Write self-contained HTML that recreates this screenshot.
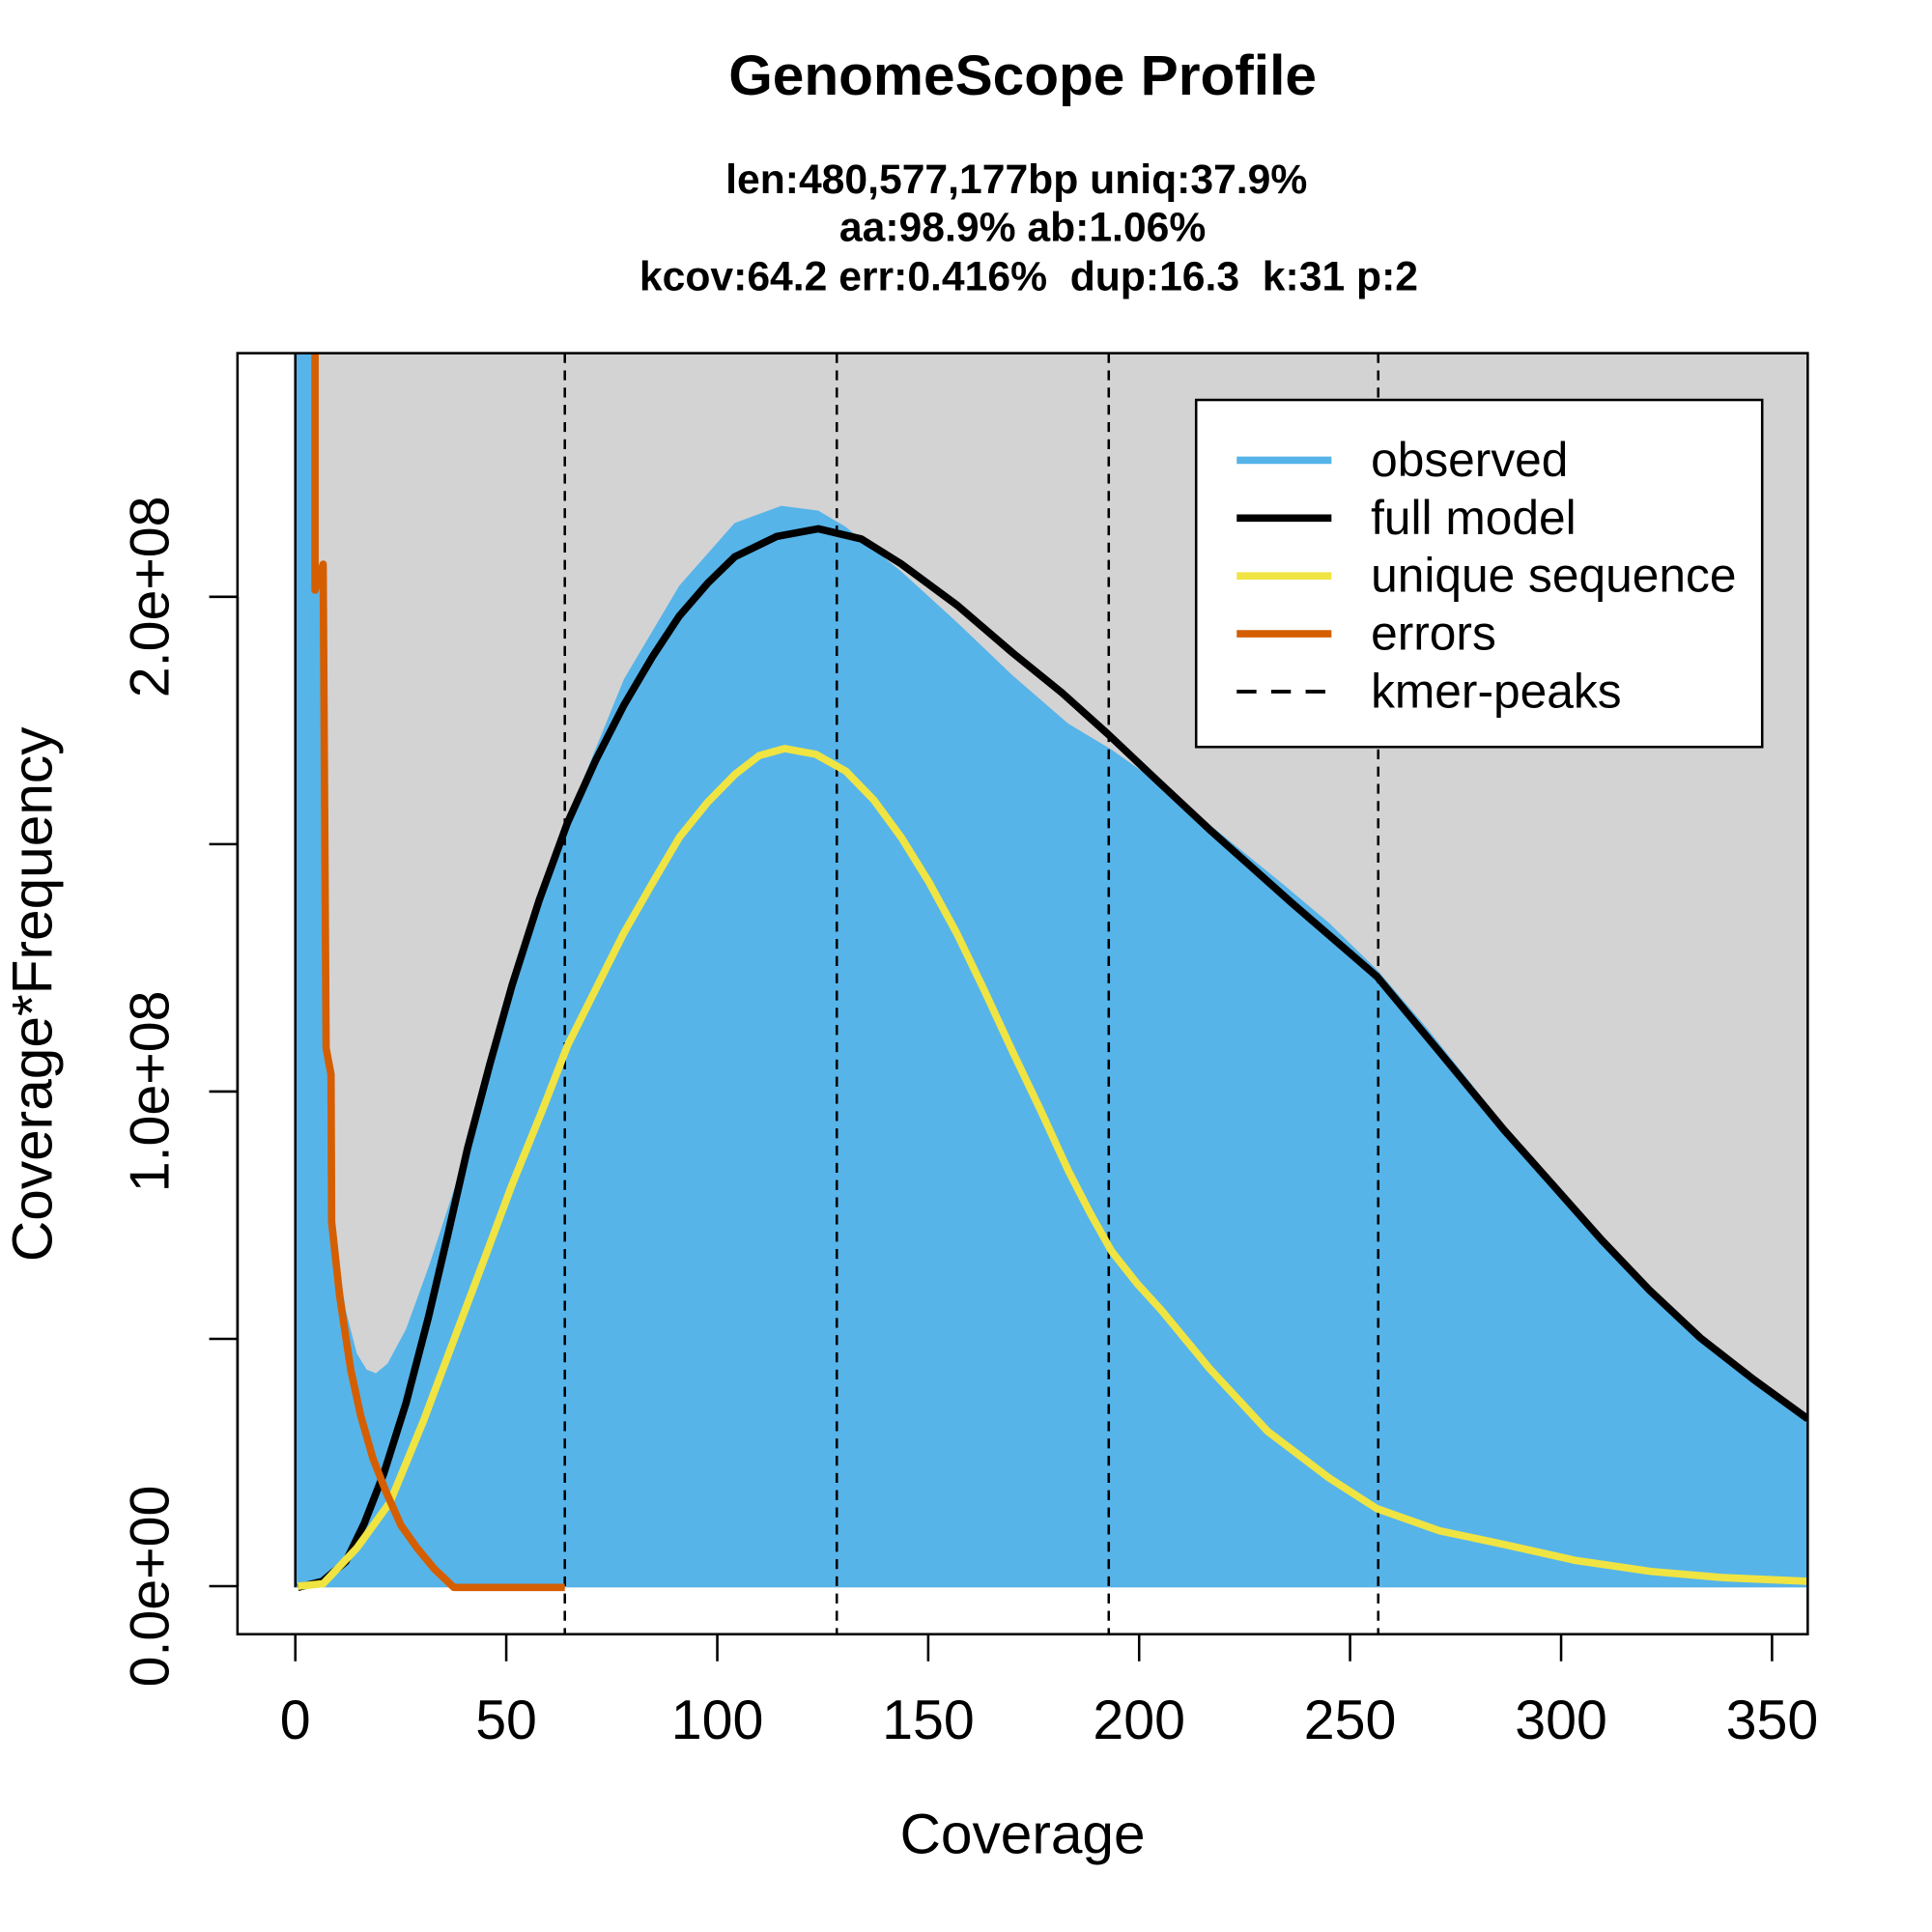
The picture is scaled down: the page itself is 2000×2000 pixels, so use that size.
<!DOCTYPE html>
<html><head><style>html,body{margin:0;padding:0;background:#fff}svg{display:block}</style></head>
<body>
<svg width="2000" height="2000" viewBox="0 0 1570 1570" xmlns="http://www.w3.org/2000/svg" font-family="Liberation Sans, Arial, sans-serif">
<defs><clipPath id="c"><rect x="193" y="287" width="1276" height="1041"/></clipPath></defs>
<rect x="240" y="287" width="1229" height="1003" fill="#d3d3d3"/>
<g clip-path="url(#c)">
<path d="M240,1290 L240,280 L256,280 L258,479 L263,470 L265,852 L269,900 L272,990 L276,1030 L281,1065 L290,1100 L298,1113 L305.5,1116 L315,1108 L330,1080 L348.5,1029 L380,933 L416,801 L461,665 L507,552 L552,476 L597,425 L635,411 L665,415 L687,428 L732,464 L778,506 L823,549 L868,588 L903,609 L944,638 L982.8,670 L1042,718 L1080,750 L1119,788 L1160,836 L1222,914 L1301.6,1007.7 L1381.5,1087 L1467,1152 L1469,1153 L1469,1290 Z" fill="#56b4e9"/>
<line x1="240" y1="287" x2="240" y2="1290" stroke="#000" stroke-width="2"/>
<g stroke="#000" stroke-width="2" stroke-dasharray="8,6">
<line x1="459" y1="287" x2="459" y2="1328"/><line x1="680" y1="287" x2="680" y2="1328"/><line x1="901" y1="287" x2="901" y2="1328"/><line x1="1120" y1="287" x2="1120" y2="1328"/>
</g>
<path d="M242,1290 L262,1285 L281,1269 L296,1238 L312,1197 L330,1140 L348,1071 L364,1003 L380,933 L398,865 L416,801 L438,732 L461,669 L484,618 L507,573 L530,534 L552,500.6 L575,474 L597,452.5 L631,436 L665,429.7 L700,438 L732,458 L778,492 L823,530.6 L863,563 L900.5,596.7 L940,634 L982.8,674 L1050,734 L1119,793.6 L1170,855 L1222,918 L1262,963 L1301.6,1007.7 L1340,1048 L1381.5,1087 L1425,1121 L1469,1153" fill="none" stroke="#000" stroke-width="6" stroke-linejoin="round"/>
<path d="M242,1289 L262.6,1287 L290,1258 L316.8,1221 L344,1155 L371,1083 L394,1022 L416,963 L440,904 L461.5,849 L485,802 L506.6,758.8 L530,718 L552,680.5 L575,652 L597,629.5 L617,614 L637.5,608.3 L663,613 L687.4,626.7 L710,650 L732.4,680.5 L755,717 L777.7,758.8 L800,805 L823,854.8 L846,903 L868,951 L886,986 L903.4,1017 L924,1043 L944,1065 L982.8,1112 L1030,1163 L1080,1201 L1119,1226 L1170,1244 L1222,1255 L1280,1268 L1341.6,1277 L1400,1282 L1469,1285" fill="none" stroke="#f0e442" stroke-width="6" stroke-linejoin="round"/>
<path d="M256,280 L256,479.6 L262.6,458.5 L265,851.7 L269,873 L269.5,993 L276,1053 L285,1113 L293,1150 L303,1185 L314,1213 L325.8,1239.5 L339,1258 L353,1275 L368.8,1290 L459,1290" fill="none" stroke="#d55e00" stroke-width="6" stroke-linejoin="round"/>
</g>
<rect x="193" y="287" width="1276" height="1041" fill="none" stroke="#000" stroke-width="2"/>
<g stroke="#000" stroke-width="2">
<line x1="240" y1="1328" x2="1440" y2="1328"/>
<line x1="240" y1="1328" x2="240" y2="1350"/><line x1="411.4" y1="1328" x2="411.4" y2="1350"/><line x1="582.9" y1="1328" x2="582.9" y2="1350"/><line x1="754.3" y1="1328" x2="754.3" y2="1350"/><line x1="925.7" y1="1328" x2="925.7" y2="1350"/><line x1="1097.1" y1="1328" x2="1097.1" y2="1350"/><line x1="1268.6" y1="1328" x2="1268.6" y2="1350"/><line x1="1440" y1="1328" x2="1440" y2="1350"/>
<line x1="193" y1="485" x2="193" y2="1289"/>
<line x1="193" y1="1289" x2="170" y2="1289"/><line x1="193" y1="1088" x2="170" y2="1088"/><line x1="193" y1="887" x2="170" y2="887"/><line x1="193" y1="686" x2="170" y2="686"/><line x1="193" y1="485" x2="170" y2="485"/>
</g>
<g font-size="45" text-anchor="middle" fill="#000">
<text x="240" y="1413">0</text><text x="411.4" y="1413">50</text><text x="582.9" y="1413">100</text><text x="754.3" y="1413">150</text><text x="925.7" y="1413">200</text><text x="1097.1" y="1413">250</text><text x="1268.6" y="1413">300</text><text x="1440" y="1413">350</text>
<text transform="translate(137,1289) rotate(-90)">0.0e+00</text>
<text transform="translate(137,887) rotate(-90)">1.0e+08</text>
<text transform="translate(137,485) rotate(-90)">2.0e+08</text>
<text x="831" y="1506" font-size="46">Coverage</text>
<text transform="translate(42,808) rotate(-90)" font-size="46">Coverage*Frequency</text>
</g>
<g font-weight="bold" text-anchor="middle" fill="#000" style="white-space:pre">
<text x="831" y="77" font-size="46">GenomeScope Profile</text>
<text x="826" y="157" font-size="33.5">len:480,577,177bp uniq:37.9%</text>
<text x="831" y="196" font-size="33.5">aa:98.9% ab:1.06%</text>
<text x="836" y="236" font-size="33.5" xml:space="preserve">kcov:64.2 err:0.416%  dup:16.3  k:31 p:2</text>
</g>
<rect x="972" y="325" width="460" height="282" fill="#fff" stroke="#000" stroke-width="2"/>
<g stroke-width="6">
<line x1="1005" y1="374" x2="1082" y2="374" stroke="#56b4e9"/>
<line x1="1005" y1="421" x2="1082" y2="421" stroke="#000"/>
<line x1="1005" y1="468" x2="1082" y2="468" stroke="#f0e442"/>
<line x1="1005" y1="515" x2="1082" y2="515" stroke="#d55e00"/>
<line x1="1005" y1="562" x2="1082" y2="562" stroke="#000" stroke-width="3" stroke-dasharray="16,12"/>
</g>
<g font-size="39" fill="#000">
<text x="1114" y="387">observed</text><text x="1114" y="434">full model</text><text x="1114" y="481">unique sequence</text><text x="1114" y="528">errors</text><text x="1114" y="575">kmer-peaks</text>
</g>
</svg>
</body></html>
